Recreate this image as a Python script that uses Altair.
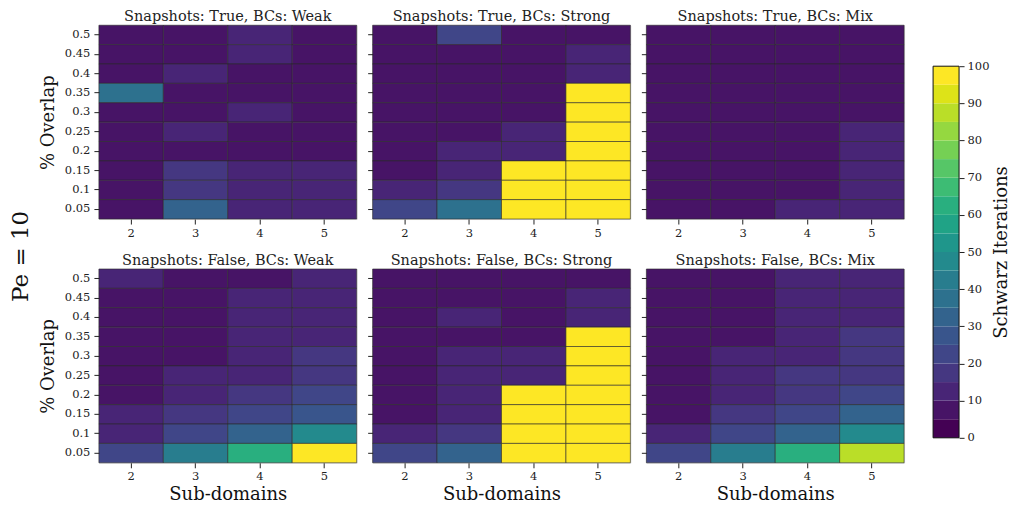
import altair as alt
import pandas as pd

FONT = "DejaVu Serif"

subdomains = ["2", "3", "4", "5"]
overlaps = ["0.5", "0.45", "0.4", "0.35", "0.3", "0.25", "0.2", "0.15", "0.1", "0.05"]
snapshot_flags = ["True", "False"]
bc_types = ["Weak", "Strong", "Mix"]

# rows follow `overlaps` (top -> bottom), columns follow `subdomains`
true_weak = [
    [7, 7, 13, 7],
    [7, 7, 13, 7],
    [7, 13, 7, 7],
    [35, 7, 7, 7],
    [7, 7, 13, 7],
    [7, 13, 7, 7],
    [7, 7, 7, 7],
    [7, 18, 13, 13],
    [7, 18, 13, 13],
    [7, 32, 13, 13],
]
true_strong = [
    [7, 22, 7, 7],
    [7, 7, 7, 13],
    [7, 7, 7, 13],
    [7, 7, 7, 100],
    [7, 7, 7, 100],
    [7, 7, 13, 100],
    [7, 13, 13, 100],
    [7, 13, 100, 100],
    [13, 18, 100, 100],
    [22, 35, 100, 100],
]
true_mix = [
    [7, 7, 7, 7],
    [7, 7, 7, 7],
    [7, 7, 7, 7],
    [7, 7, 7, 7],
    [7, 7, 7, 7],
    [7, 7, 7, 13],
    [7, 7, 7, 13],
    [7, 7, 7, 13],
    [7, 7, 7, 13],
    [7, 7, 13, 13],
]
false_weak = [
    [13, 7, 7, 13],
    [7, 7, 13, 13],
    [7, 7, 13, 13],
    [7, 7, 13, 13],
    [7, 7, 13, 18],
    [7, 13, 13, 18],
    [7, 13, 18, 22],
    [13, 18, 22, 27],
    [13, 22, 32, 49],
    [22, 42, 62, 100],
]
false_strong = [
    [7, 7, 7, 7],
    [7, 7, 7, 13],
    [7, 13, 7, 13],
    [7, 7, 7, 100],
    [7, 13, 13, 100],
    [7, 13, 13, 100],
    [7, 13, 100, 100],
    [7, 13, 100, 100],
    [13, 18, 100, 100],
    [22, 34, 100, 100],
]
false_mix = [
    [7, 7, 13, 13],
    [7, 7, 13, 13],
    [7, 7, 13, 13],
    [7, 7, 13, 18],
    [7, 13, 13, 18],
    [7, 13, 18, 18],
    [7, 13, 18, 22],
    [7, 18, 22, 32],
    [13, 22, 32, 49],
    [22, 44, 62, 87],
]

grids = {
    ("True", "Weak"): true_weak,
    ("True", "Strong"): true_strong,
    ("True", "Mix"): true_mix,
    ("False", "Weak"): false_weak,
    ("False", "Strong"): false_strong,
    ("False", "Mix"): false_mix,
}

# colorbar bin edges (0..100 in steps of 5)
bin_lo = list(range(0, 100, 5))
bin_hi = list(range(5, 105, 5))
bar_ticks = list(range(0, 105, 5))

viridis20 = [
    "#440154", "#471466", "#482576", "#453781", "#404688",
    "#39558c", "#33638d", "#2d718e", "#287d8e", "#238a8d",
    "#1f968b", "#20a386", "#29af7f", "#3dbc74", "#56c667",
    "#75d054", "#95d840", "#bade28", "#dde318", "#fde725",
]
color_scale = alt.Scale(type="quantize", domain=[0, 100], range=viridis20, nice=False)

W, H = 258, 194
LABEL_SIZE = 11.5
AXIS_TITLE_SIZE = 18


def panel(snap, bc, col_idx, row_idx):
    rows = []
    grid = grids[(snap, bc)]
    for i, ov in enumerate(overlaps):
        for j, sd in enumerate(subdomains):
            rows.append({"sub": sd, "overlap": ov, "iters": grid[i][j]})
    df = pd.DataFrame(rows)

    xaxis_kw = dict(labelAngle=0, labelFont=FONT, labelFontSize=LABEL_SIZE, labelColor="#222",
                    tickColor="#222", tickSize=5, labelPadding=3, domain=False, titleFont=FONT,
                    titleFontSize=AXIS_TITLE_SIZE, titleFontWeight="normal", titleColor="#111",
                    titlePadding=3)
    if row_idx == 1:
        xaxis_kw["title"] = "Sub-domains"
    else:
        xaxis_kw["title"] = ""
    yaxis_kw = dict(labelFont=FONT, labelFontSize=LABEL_SIZE, labelColor="#222",
                    tickColor="#222", tickSize=5, labelPadding=4, domain=False, titleFont=FONT,
                    titleFontSize=AXIS_TITLE_SIZE, titleFontWeight="normal", titleColor="#111",
                    titlePadding=7)
    if col_idx == 0:
        yaxis_kw["title"] = "% Overlap"
    else:
        yaxis_kw["title"] = ""
        yaxis_kw["labels"] = False

    return alt.Chart(df).mark_rect(stroke="#2a2a2a", strokeWidth=0.6).encode(
        x=alt.X("sub:O", sort=subdomains,
                scale=alt.Scale(paddingInner=0, paddingOuter=0),
                axis=alt.Axis(**xaxis_kw)),
        y=alt.Y("overlap:O", sort=overlaps,
                scale=alt.Scale(paddingInner=0, paddingOuter=0),
                axis=alt.Axis(**yaxis_kw)),
        color=alt.Color("iters:Q", scale=color_scale, legend=None),
    ).properties(
        width=W, height=H,
        title=alt.TitleParams(f"Snapshots: {snap}, BCs: {bc}", font=FONT, fontSize=14.5,
                              fontWeight="normal", color="#222", offset=0),
    )


rows_charts = []
for r, snap in enumerate(snapshot_flags):
    row = [panel(snap, bc, c, r) for c, bc in enumerate(bc_types)]
    rows_charts.append(alt.hconcat(*row, spacing=9))

grid_chart = alt.vconcat(*rows_charts, spacing=13).properties(
    title=alt.TitleParams("Pe = 10", orient="left", font=FONT, fontSize=23,
                          fontWeight="normal", color="#111", anchor="middle", offset=6)
)

cb_df = pd.DataFrame({"lo": bin_lo, "hi": bin_hi})
cb_df["mid"] = cb_df["lo"] + 2.5

# colorbar drawn in a frameless view; its y-scale range places the bar
CB_TOP, CB_BOTTOM, CB_H = 41, 413, 420
cb_y = alt.Scale(domain=[0, 100], nice=False, range=[CB_BOTTOM, CB_TOP])

cb_bins = alt.Chart(cb_df).mark_rect().encode(
    x=alt.value(0), x2=alt.value(26),
    y=alt.Y("lo:Q", scale=cb_y,
            axis=alt.Axis(orient="right", values=bar_ticks,
                          labelExpr="datum.value % 10 == 0 ? datum.label : ''",
                          labelFont=FONT, labelFontSize=LABEL_SIZE, labelColor="#222",
                          tickColor="#222", tickSize=5, labelPadding=3, domain=False, grid=False,
                          title="Schwarz Iterations", titleFont=FONT,
                          titleFontSize=AXIS_TITLE_SIZE,
                          titleFontWeight="normal", titleColor="#111", titleAngle=270,
                          titleBaseline="top", titlePadding=4,
                          titleY=(CB_TOP + CB_BOTTOM) / 2)),
    y2="hi:Q",
    color=alt.Color("mid:Q", scale=color_scale, legend=None),
)

cb_frame = alt.Chart(pd.DataFrame({"lo": [bin_lo[0]], "hi": [bin_hi[-1]]})).mark_rect(
    fill="transparent", stroke="#111", strokeWidth=1
).encode(
    x=alt.value(0), x2=alt.value(26),
    y=alt.Y("lo:Q", scale=cb_y),
    y2="hi:Q",
)

colorbar = alt.layer(cb_bins, cb_frame).properties(
    width=26, height=CB_H, view=alt.ViewConfig(stroke="transparent")
)

chart = alt.hconcat(grid_chart, colorbar, spacing=27).properties(
    padding={"top": 0, "left": 1, "right": 0, "bottom": 0}
).configure_view(
    stroke="#111", strokeWidth=1
).configure(background="white")

chart.save("out.html", embed_options={"renderer": "svg", "actions": False})
